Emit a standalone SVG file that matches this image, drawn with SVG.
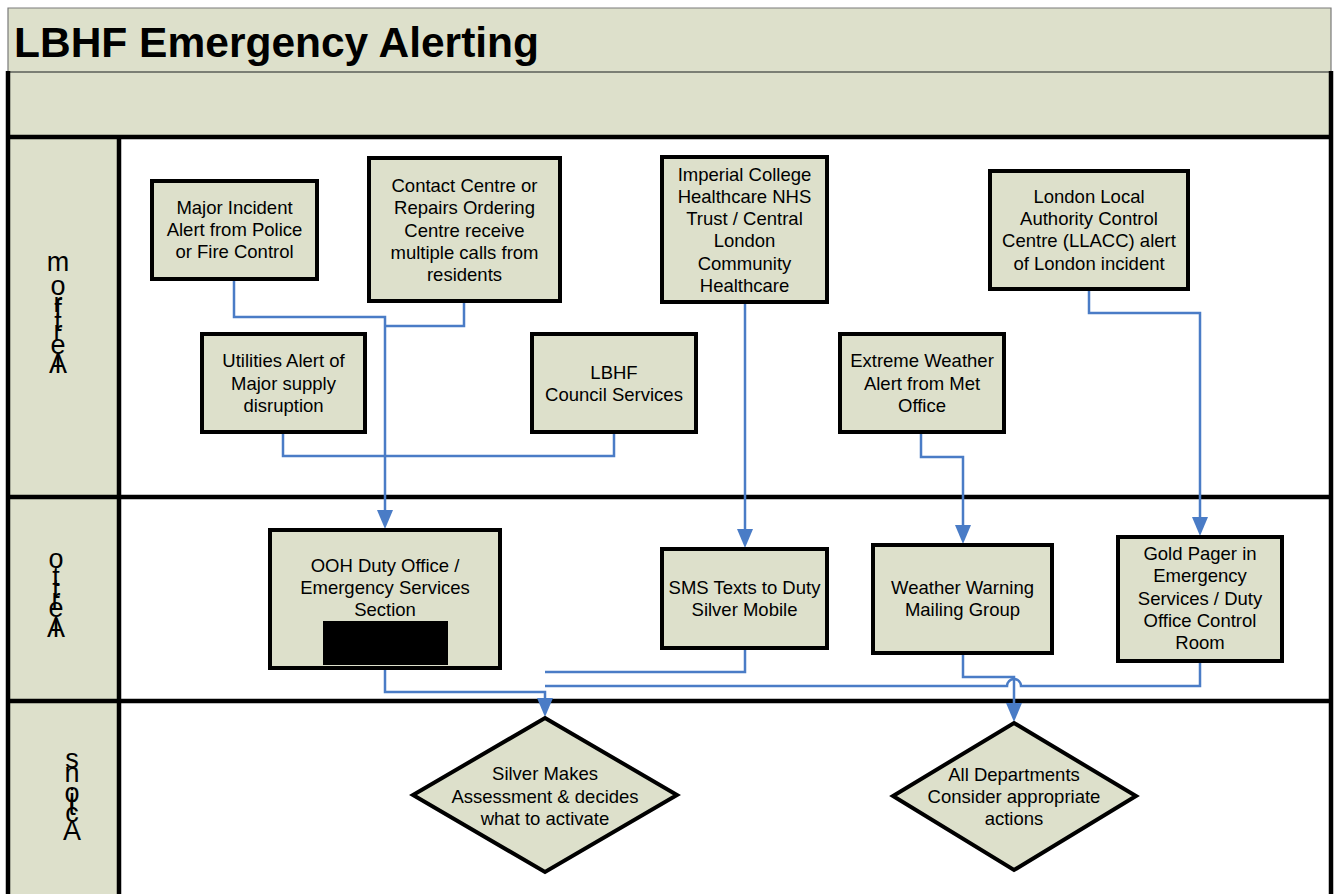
<svg xmlns="http://www.w3.org/2000/svg" width="1337" height="894" viewBox="0 0 1337 894">
<style>
.node rect,.node polygon{fill:#dde0cb;stroke:#000;stroke-width:4}
.t{font-family:"Liberation Sans",Arial,sans-serif;font-size:18.5px;fill:#000;text-anchor:middle}
.lane{font-family:"Liberation Sans",Arial,sans-serif;font-size:27px;fill:#000;text-anchor:middle}
.thick{stroke:#000;stroke-width:4.5;fill:none}
.c{fill:none;stroke:#4a7cc6;stroke-width:2.5}
.ah{fill:#4a7cc6}
</style>
<rect width="1337" height="894" fill="#fff"/>
<g id="header">
<rect x="8" y="8" width="1323" height="129" fill="#dde0cb"/>
<path d="M8,72 V8 H1331 V72" fill="none" stroke="#7a7a7a" stroke-width="1.2"/>
<line x1="8" y1="72" x2="1331" y2="72" stroke="#5a5f58" stroke-width="1.5"/>
<text x="14" y="57" font-family="'Liberation Sans',Arial,sans-serif" font-weight="bold" font-size="42.5" fill="#000">LBHF Emergency Alerting</text>
</g>
<g id="lanes">
<rect x="8" y="137" width="111" height="760" fill="#dde0cb"/>
<line class="thick" x1="8" y1="71" x2="8" y2="894"/>
<line class="thick" x1="1331" y1="71" x2="1331" y2="894"/>
<line class="thick" x1="119" y1="137" x2="119" y2="894"/>
<line class="thick" x1="6" y1="137" x2="1333" y2="137"/>
<line class="thick" x1="6" y1="497" x2="1333" y2="497"/>
<line class="thick" x1="6" y1="701" x2="1333" y2="701"/>
<g id="lane-alert-from">
<text class="lane" x="58" y="373">A</text>
<text class="lane" x="58" y="373">l</text>
<text class="lane" x="58" y="354">e</text>
<text class="lane" x="58" y="340">r</text>
<text class="lane" x="58" y="331">t</text>
<text class="lane" x="58" y="318">f</text>
<text class="lane" x="58" y="312">r</text>
<text class="lane" x="58" y="295">o</text>
<text class="lane" x="58" y="271">m</text>
</g>
<g id="lane-alert-to">
<text class="lane" x="56" y="637">A</text>
<text class="lane" x="56" y="637">l</text>
<text class="lane" x="56" y="617">e</text>
<text class="lane" x="56" y="608">r</text>
<text class="lane" x="56" y="598">t</text>
<text class="lane" x="56" y="586">t</text>
<text class="lane" x="56" y="568">o</text>
</g>
<g id="lane-actions">
<text class="lane" x="72" y="840">A</text>
<text class="lane" x="72" y="822">c</text>
<text class="lane" x="72" y="815">t</text>
<text class="lane" x="72" y="808">i</text>
<text class="lane" x="72" y="802">o</text>
<text class="lane" x="72" y="782">n</text>
<text class="lane" x="72" y="768">s</text>
</g>
</g>
<g id="connectors">
<path class="c" d="M234,279 V317 H385 V520"/>
<path class="c" d="M464,301 V326 H385"/>
<path class="c" d="M283,433 V456 H614 V433"/>
<path class="c" d="M745,302 V539"/>
<path class="c" d="M921,433 V457 H963 V535"/>
<path class="c" d="M1089,289 V313 H1200 V527"/>
<path class="c" d="M385,668 V692 H545 V708"/>
<path class="c" d="M745,648 V672 H545"/>
<path class="c" d="M963,653 V677 H1014 V713"/>
<path class="c" d="M1200,661 V686 H1021 A7,7 0 0 0 1007,686 H545"/>
<polygon class="ah" points="377,510 393,510 385,529"/>
<polygon class="ah" points="737,529 753,529 745,548"/>
<polygon class="ah" points="955,525 971,525 963,544"/>
<polygon class="ah" points="1192,517 1208,517 1200,536"/>
<polygon class="ah" points="537,698 553,698 545,717"/>
<polygon class="ah" points="1006,703 1022,703 1014,722"/>
</g>
<g id="n-major-incident" class="node">
<rect x="152" y="181" width="165" height="98"/>
<text class="t" x="234.5" y="214">Major Incident</text>
<text class="t" x="234.5" y="236">Alert from Police</text>
<text class="t" x="234.5" y="258">or Fire Control</text>
</g>
<g id="n-contact-centre" class="node">
<rect x="369" y="158" width="191" height="143"/>
<text class="t" x="464.5" y="192">Contact Centre or</text>
<text class="t" x="464.5" y="214">Repairs Ordering</text>
<text class="t" x="464.5" y="237">Centre receive</text>
<text class="t" x="464.5" y="259">multiple calls from</text>
<text class="t" x="464.5" y="281">residents</text>
</g>
<g id="n-imperial" class="node">
<rect x="662" y="157" width="165" height="145"/>
<text class="t" x="744.5" y="181">Imperial College</text>
<text class="t" x="744.5" y="203">Healthcare NHS</text>
<text class="t" x="744.5" y="225">Trust / Central</text>
<text class="t" x="744.5" y="247">London</text>
<text class="t" x="744.5" y="270">Community</text>
<text class="t" x="744.5" y="292">Healthcare</text>
</g>
<g id="n-llacc" class="node">
<rect x="990" y="171" width="198" height="118"/>
<text class="t" x="1089" y="203">London Local</text>
<text class="t" x="1089" y="225">Authority Control</text>
<text class="t" x="1089" y="247">Centre (LLACC) alert</text>
<text class="t" x="1089" y="270">of London incident</text>
</g>
<g id="n-utilities" class="node">
<rect x="202" y="334" width="163" height="98"/>
<text class="t" x="283.5" y="367">Utilities Alert of</text>
<text class="t" x="283.5" y="390">Major supply</text>
<text class="t" x="283.5" y="412">disruption</text>
</g>
<g id="n-lbhf" class="node">
<rect x="532" y="334" width="164" height="98"/>
<text class="t" x="614" y="379">LBHF</text>
<text class="t" x="614" y="401">Council Services</text>
</g>
<g id="n-extreme-weather" class="node">
<rect x="840" y="334" width="164" height="98"/>
<text class="t" x="922" y="367">Extreme Weather</text>
<text class="t" x="922" y="390">Alert from Met</text>
<text class="t" x="922" y="412">Office</text>
</g>
<g id="n-ooh" class="node">
<rect x="270" y="530" width="230" height="138"/>
<text class="t" x="385" y="572">OOH Duty Office /</text>
<text class="t" x="385" y="594">Emergency Services</text>
<text class="t" x="385" y="616">Section</text>
<rect x="323" y="621" width="125" height="44" style="fill:#000;stroke:none"/>
</g>
<g id="n-sms" class="node">
<rect x="662" y="549" width="165" height="99"/>
<text class="t" x="744.5" y="594">SMS Texts to Duty</text>
<text class="t" x="744.5" y="616">Silver Mobile</text>
</g>
<g id="n-weather-warning" class="node">
<rect x="873" y="545" width="179" height="108"/>
<text class="t" x="962.5" y="594">Weather Warning</text>
<text class="t" x="962.5" y="616">Mailing Group</text>
</g>
<g id="n-gold-pager" class="node">
<rect x="1118" y="537" width="164" height="124"/>
<text class="t" x="1200" y="560">Gold Pager in</text>
<text class="t" x="1200" y="582">Emergency</text>
<text class="t" x="1200" y="605">Services / Duty</text>
<text class="t" x="1200" y="627">Office Control</text>
<text class="t" x="1200" y="649">Room</text>
</g>
<g id="n-silver" class="node">
<polygon points="545,718 677,795 545,872 413,795"/>
<text class="t" x="545" y="780">Silver Makes</text>
<text class="t" x="545" y="803">Assessment &amp; decides</text>
<text class="t" x="545" y="825">what to activate</text>
</g>
<g id="n-all-departments" class="node">
<polygon points="1014,723 1136,796 1014,870 893,796"/>
<text class="t" x="1014" y="781">All Departments</text>
<text class="t" x="1014" y="803">Consider appropriate</text>
<text class="t" x="1014" y="825">actions</text>
</g>
</svg>
